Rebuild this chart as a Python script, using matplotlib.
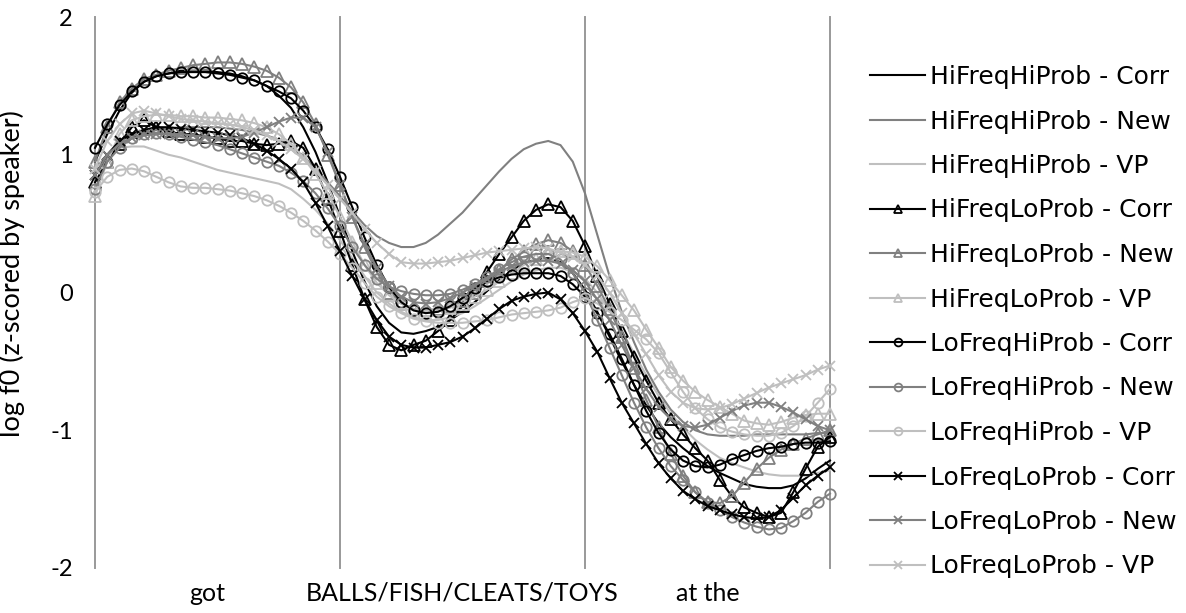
import matplotlib
matplotlib.use("Agg")
import matplotlib.pyplot as plt
from matplotlib.font_manager import FontProperties
import numpy as np

# time-normalised f0 samples: 20 per region, 61 points across got | NOUN | at the
hh_corr = [0.95, 1.15, 1.32, 1.45, 1.53, 1.57, 1.59, 1.61, 1.61, 1.61,
           1.6, 1.59, 1.57, 1.54, 1.5, 1.43, 1.34, 1.2, 1.02, 0.8,
           0.55, 0.3, 0.08, -0.1, -0.22, -0.29, -0.3, -0.28, -0.25, -0.2,
           -0.14, -0.07, 0.01, 0.09, 0.16, 0.21, 0.24, 0.25, 0.22, 0.14,
           0.02, -0.14, -0.32, -0.5, -0.67, -0.82, -0.95, -1.05, -1.13, -1.2,
           -1.26, -1.31, -1.35, -1.39, -1.41, -1.42, -1.42, -1.4, -1.35, -1.28, -1.22]
hh_new = [0.85, 0.97, 1.06, 1.12, 1.16, 1.18, 1.19, 1.2, 1.2, 1.2,
          1.2, 1.19, 1.18, 1.16, 1.14, 1.11, 1.06, 0.99, 0.9, 0.8,
          0.7, 0.59, 0.49, 0.41, 0.36, 0.33, 0.33, 0.36, 0.42, 0.5,
          0.58, 0.68, 0.78, 0.88, 0.97, 1.04, 1.08, 1.1, 1.07, 0.95,
          0.72, 0.42, 0.12, -0.14, -0.36, -0.56, -0.72, -0.85, -0.94, -1.0,
          -1.03, -1.04, -1.04, -1.04, -1.03, -1.03, -1.03, -1.03, -1.03, -1.02, -1.02]
hh_vp = [0.9, 1.0, 1.05, 1.06, 1.06, 1.03, 1.0, 0.98, 0.95, 0.92,
         0.89, 0.87, 0.85, 0.83, 0.81, 0.79, 0.75, 0.68, 0.6, 0.5,
         0.38, 0.25, 0.12, 0.0, -0.08, -0.14, -0.18, -0.2, -0.2, -0.18,
         -0.15, -0.1, -0.04, 0.02, 0.08, 0.13, 0.16, 0.18, 0.18, 0.15,
         0.1, 0.0, -0.13, -0.28, -0.44, -0.6, -0.75, -0.88, -0.98, -1.07,
         -1.14, -1.2, -1.24, -1.27, -1.3, -1.32, -1.33, -1.33, -1.33, -1.31, -1.29]
hl_corr = [0.8, 0.95, 1.08, 1.2, 1.25, 1.2, 1.17, 1.15, 1.15, 1.13,
           1.12, 1.1, 1.1, 1.08, 1.07, 1.08, 1.1, 1.05, 0.9, 0.68,
           0.45, 0.2, -0.05, -0.25, -0.38, -0.42, -0.38, -0.35, -0.28, -0.2,
           -0.1, 0.02, 0.15, 0.28, 0.4, 0.52, 0.6, 0.64, 0.62, 0.52,
           0.34, 0.12, -0.08, -0.28, -0.47, -0.64, -0.8, -0.92, -1.03, -1.13,
           -1.22, -1.36, -1.48, -1.56, -1.6, -1.63, -1.6, -1.45, -1.28, -1.12, -1.05]
hl_new = [0.95, 1.2, 1.38, 1.48, 1.55, 1.58, 1.61, 1.63, 1.65, 1.66,
          1.67, 1.67, 1.66, 1.64, 1.61, 1.56, 1.49, 1.38, 1.22, 1.0,
          0.78, 0.55, 0.33, 0.15, 0.0, -0.08, -0.12, -0.13, -0.12, -0.1,
          -0.06, 0.0, 0.08, 0.16, 0.24, 0.3, 0.35, 0.38, 0.36, 0.3,
          0.2, 0.05, -0.12, -0.32, -0.55, -0.78, -0.98, -1.17, -1.33, -1.45,
          -1.52, -1.53, -1.48, -1.38, -1.28, -1.2, -1.14, -1.1, -1.06, -1.03, -1.0]
hl_vp = [0.7, 0.95, 1.15, 1.25, 1.28, 1.29, 1.29, 1.28, 1.28, 1.27,
         1.27, 1.26, 1.25, 1.23, 1.2, 1.15, 1.08, 0.98, 0.86, 0.72,
         0.55, 0.37, 0.2, 0.07, -0.02, -0.08, -0.12, -0.13, -0.13, -0.11,
         -0.08, -0.03, 0.02, 0.08, 0.14, 0.2, 0.24, 0.28, 0.3, 0.29,
         0.26, 0.19, 0.09, -0.02, -0.13, -0.27, -0.4, -0.54, -0.64, -0.72,
         -0.78, -0.83, -0.88, -0.93, -0.95, -0.96, -0.94, -0.91, -0.89, -0.88, -0.88]
lh_corr = [1.05, 1.22, 1.36, 1.46, 1.53, 1.57, 1.59, 1.6, 1.6, 1.6,
           1.59, 1.58, 1.56, 1.54, 1.5, 1.46, 1.41, 1.32, 1.2, 1.04,
           0.84, 0.62, 0.4, 0.2, 0.04, -0.07, -0.13, -0.15, -0.14, -0.1,
           -0.04, 0.03, 0.08, 0.11, 0.13, 0.14, 0.14, 0.14, 0.12, 0.06,
           -0.03, -0.15, -0.3, -0.48, -0.67, -0.86, -1.02, -1.14, -1.22, -1.26,
           -1.27, -1.25, -1.21, -1.18, -1.15, -1.13, -1.12, -1.1, -1.09, -1.09, -1.08]
lh_new = [0.75, 0.95, 1.05, 1.12, 1.15, 1.16, 1.15, 1.13, 1.11, 1.09,
          1.07, 1.04, 1.01, 0.98, 0.95, 0.92, 0.87, 0.81, 0.72, 0.61,
          0.48, 0.33, 0.2, 0.1, 0.04, 0.01, -0.01, -0.02, -0.02, -0.01,
          0.02, 0.06, 0.11, 0.17, 0.22, 0.26, 0.28, 0.28, 0.24, 0.14,
          0.0, -0.2, -0.4, -0.6, -0.8, -0.98, -1.13, -1.26, -1.36, -1.45,
          -1.53, -1.58, -1.63, -1.67, -1.7, -1.72, -1.71, -1.66, -1.6, -1.52, -1.46]
lh_vp = [0.73, 0.84, 0.89, 0.9, 0.88, 0.84, 0.8, 0.77, 0.76, 0.76,
         0.75, 0.74, 0.72, 0.7, 0.67, 0.63, 0.58, 0.52, 0.45, 0.37,
         0.28, 0.18, 0.07, -0.03, -0.1, -0.15, -0.19, -0.21, -0.22, -0.22,
         -0.22, -0.21, -0.2, -0.18, -0.16, -0.15, -0.14, -0.13, -0.11, -0.07,
         -0.04, -0.08, -0.14, -0.2, -0.27, -0.34, -0.44, -0.58, -0.72, -0.84,
         -0.92, -0.98, -1.01, -1.03, -1.04, -1.04, -1.02, -0.97, -0.9, -0.8, -0.7]
ll_corr = [0.85, 1.0, 1.1, 1.15, 1.18, 1.2, 1.2, 1.19, 1.18, 1.17,
           1.16, 1.14, 1.12, 1.08, 1.03, 0.97, 0.9, 0.8, 0.65, 0.48,
           0.3, 0.12, -0.05, -0.2, -0.32, -0.38, -0.4, -0.4, -0.38, -0.36,
           -0.32, -0.26, -0.19, -0.12, -0.06, -0.03, -0.01, 0.0, -0.05, -0.15,
           -0.28, -0.43, -0.62, -0.8, -0.95, -1.1, -1.24, -1.35, -1.44, -1.5,
           -1.55, -1.58, -1.61, -1.63, -1.64, -1.63, -1.58, -1.49, -1.4, -1.33, -1.27]
ll_new = [0.85, 1.0, 1.08, 1.12, 1.14, 1.15, 1.15, 1.15, 1.14, 1.13,
          1.12, 1.12, 1.13, 1.16, 1.2, 1.24, 1.27, 1.27, 1.2, 1.02,
          0.78, 0.55, 0.35, 0.18, 0.05, -0.03, -0.07, -0.08, -0.07, -0.04,
          0.0, 0.05, 0.1, 0.15, 0.19, 0.22, 0.23, 0.23, 0.21, 0.16,
          0.08, -0.05, -0.2, -0.38, -0.55, -0.7, -0.83, -0.92, -0.97, -0.98,
          -0.96, -0.91, -0.86, -0.82, -0.8, -0.8, -0.83, -0.87, -0.92, -0.97, -1.0]
ll_vp = [0.9, 1.1, 1.22, 1.3, 1.32, 1.3, 1.28, 1.26, 1.25, 1.24,
         1.23, 1.22, 1.2, 1.18, 1.14, 1.1, 1.04, 0.97, 0.88, 0.78,
         0.68, 0.58, 0.46, 0.36, 0.28, 0.22, 0.21, 0.21, 0.22, 0.23,
         0.25, 0.27, 0.29, 0.3, 0.31, 0.32, 0.33, 0.32, 0.29, 0.26,
         0.2, 0.12, 0.0, -0.15, -0.3, -0.45, -0.6, -0.72, -0.8, -0.84,
         -0.85, -0.84, -0.81, -0.77, -0.73, -0.69, -0.66, -0.63, -0.6, -0.56, -0.53]

labels = ['HiFreqHiProb - Corr', 'HiFreqHiProb - New', 'HiFreqHiProb - VP',
          'HiFreqLoProb - Corr', 'HiFreqLoProb - New', 'HiFreqLoProb - VP',
          'LoFreqHiProb - Corr', 'LoFreqHiProb - New', 'LoFreqHiProb - VP',
          'LoFreqLoProb - Corr', 'LoFreqLoProb - New', 'LoFreqLoProb - VP']
series = [hh_corr, hh_new, hh_vp, hl_corr, hl_new, hl_vp,
          lh_corr, lh_new, lh_vp, ll_corr, ll_new, ll_vp]
words = ['got', 'BALLS/FISH/CLEATS/TOYS', 'at the']
word_pos = [9.2, 30, 50]
region_edges = [0, 20, 40, 60]

shades = ['#000000', '#808080', '#bfbfbf']
markers = [None, '^', 'o', 'x']
msizes = [0, 8.5, 7.5, 7.5]

fig = plt.figure(figsize=(11.86, 6.13), dpi=100)
ax = fig.add_axes([95/1186, 1-568/613, 735/1186, 551/613])

x = np.arange(len(hh_corr))
for k, (y, lab) in enumerate(zip(series, labels)):
    c = shades[k % 3]
    m = markers[k // 3]
    ax.plot(x, y, color=c, lw=1.5, marker=m, ms=msizes[k // 3],
            mfc='none', mec=c, mew=1.3, label=lab, zorder=3 + k, clip_on=False)

for e in region_edges:
    ax.axvline(e, color='#999999', lw=1.4, zorder=1, clip_on=False)

ax.set_xlim(0, 60)
ax.set_ylim(-2, 2)
for s in ax.spines.values():
    s.set_visible(False)

ax.set_yticks([-2, -1, 0, 1, 2])
ax.set_yticklabels(['-2', '-1', '0', '1', '2'], family='Lato', fontsize=17)
ax.tick_params(axis='y', length=0, pad=16)
ax.set_xticks(word_pos)
ax.set_xticklabels(words, family='Lato', fontsize=18)
ax.tick_params(axis='x', length=0, pad=10)
ax.set_ylabel('log f0 (z-scored by speaker)', family='Lato', fontsize=19.5)
ax.yaxis.set_label_coords(-0.095, 0.535)

leg_font = FontProperties(family='DejaVu Sans', size=18)
fig.legend(loc='upper left', bbox_to_anchor=(860/1186, 1-55/613),
           frameon=False, prop=leg_font,
           handlelength=2.2, handletextpad=0.2, labelspacing=0.82,
           markerscale=0.75, borderaxespad=0)

fig.savefig('out.png', dpi=100)
